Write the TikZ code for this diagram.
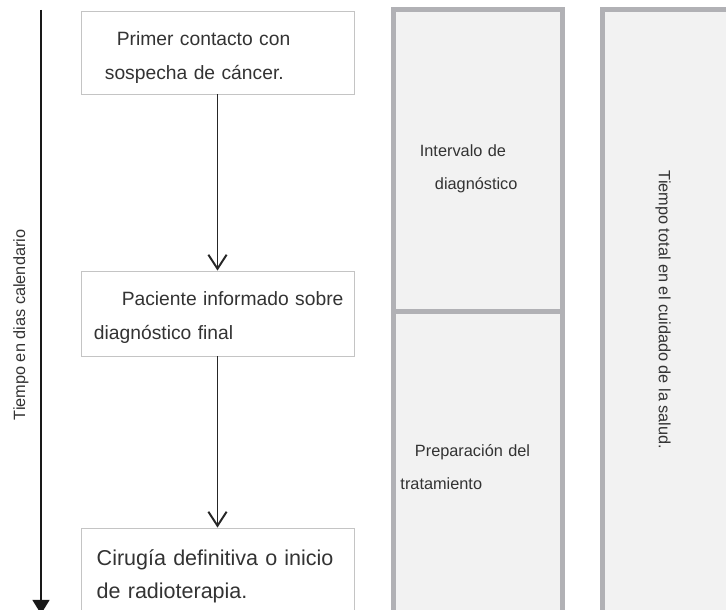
\documentclass[tikz,border=0pt]{standalone}
\usepackage{fontspec}
\setmainfont{Liberation Sans}
\usetikzlibrary{arrows.meta}

\definecolor{panelgray}{HTML}{B1B1B5}
\definecolor{panelfill}{HTML}{F2F2F2}
\definecolor{boxgray}{HTML}{C4C4C4}
\definecolor{txt}{HTML}{333333}

\begin{document}
\begin{tikzpicture}[x=0.025cm,y=-0.025cm]

  \tikzstyle{evento}=[shape=rectangle, draw=boxgray, line width=0.6pt, fill=white, minimum width=6.825cm, text width=6.5cm, inner xsep=0.1625cm, align=left, text=txt, font=\fontsize{13.7}{24}\selectfont]

  \tikzstyle{panel}=[shape=rectangle, draw=panelgray, line width=3.5pt, fill=panelfill, minimum width=4.225cm, text width=3.875cm, inner xsep=0.175cm, align=left, text=txt, font=\fontsize{11.6}{23.4}\selectfont]

  \tikzstyle{etiqueta}=[text=txt, font=\fontsize{11.6}{14}\selectfont]

  \tikzstyle{lineDecorate}=[-{Straight Barb[length=10pt,width=13pt]}, draw=black!85, line width=1.4pt]

  \tikzstyle{lineTiempo}=[-{Triangle[length=10pt,width=12pt]}, draw=black!90, line width=1.4pt]

\useasboundingbox (0,0) rectangle (726,610);
\clip (0,0) rectangle (726,610);

%% panels on the right

\node (I)[panel, minimum height=7.5625cm] at (478,160.75) {\rule{0pt}{20pt}\hspace*{13.8pt}Intervalo de\\\hspace*{24.5pt}diagnóstico};

\node (P)[panel, minimum height=7.75cm] at (478,467) {\hspace*{10.3pt}Preparación del\\tratamiento};

\node (T)[panel, text width=, minimum width=3.4375cm, minimum height=15.3cm] at (671.25,315.75) {};

\node (Ttxt)[etiqueta, rotate=-90] at (663,310) {Tiempo total en el cuidado de la salud.};

%% nodes or events

\node (A)[evento, minimum height=2.075cm] at (217.5,52.5) {\rule{0pt}{17pt}\hspace*{20.9pt}Primer contacto con\\\hspace*{12.4pt}sospecha de cáncer.};

\node (B)[evento, minimum height=2.125cm] at (217.5,313.5) {\rule{0pt}{16pt}\hspace*{24.4pt}Paciente informado sobre\\\hspace*{4.6pt}diagnóstico final};

\node (C)[evento, minimum height=2.25cm, font=\fontsize{15.3}{24}\selectfont] at (217.5,573) {\rule{0pt}{16pt}\hspace*{6.6pt}Cirugía definitiva o inicio\\\hspace*{6.6pt}de radioterapia.};

%% time axis

\coordinate (t0) at (41,10);
\coordinate (t1) at (41,614);

\node (Ltxt)[etiqueta, rotate=90] at (21,325) {Tiempo en dias calendario};

%% edges or lines

\path
	(t0) edge[lineTiempo] (t1)

	(A) edge[lineDecorate] (B)

	(B) edge[lineDecorate] (C)
;
\end{tikzpicture}
\end{document}
